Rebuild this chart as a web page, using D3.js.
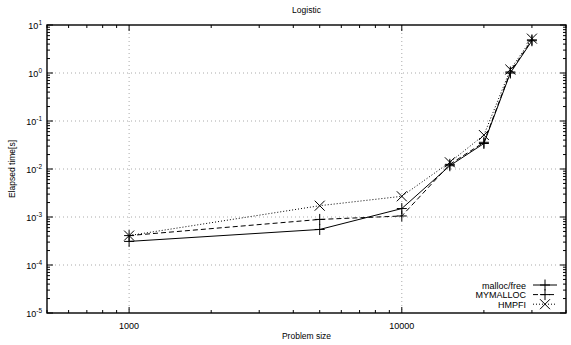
<!DOCTYPE html>
<html>
<head>
<meta charset="utf-8">
<script src="https://cdn.jsdelivr.net/npm/d3@7"></script>
<style>
  body { margin: 0; background: #fff; }
  svg text { font-family: "Liberation Sans", Arial, sans-serif; fill: #000; }
</style>
</head>
<body>
<div id="chart"></div>
<script>
// problem sizes on the x axis
const sizes = [1000, 5000, 10000, 15000, 20000, 25000, 30000];
// elapsed time [s] per series
const mallocFree = [3.1e-4, 5.5e-4, 1.5e-3, 1.17e-2, 3.4e-2, 1.0, 4.7];
const myMalloc   = [4.1e-4, 8.9e-4, 1.05e-3, 1.25e-2, 3.6e-2, 1.05, 4.9];
const hmpfi      = [4.1e-4, 1.72e-3, 2.7e-3, 1.38e-2, 5.1e-2, 1.18, 5.2];
const seriesNames = ['malloc/free', 'MYMALLOC', 'HMPFI'];
const xTickValues = [1000, 10000];
const yTickExp = [-5, -4, -3, -2, -1, 0, 1];

const width = 571, height = 345;
const margin = { top: 25, right: 5, bottom: 32, left: 47 };
const w = width - margin.left - margin.right;
const h = height - margin.top - margin.bottom;

const svg = d3.select('#chart').append('svg')
  .attr('width', width)
  .attr('height', height);

const chart = svg.append('g')
  .attr('transform', `translate(${margin.left},${margin.top})`);

const x = d3.scaleLog().domain([500, 40000]).range([0, w]);
const y = d3.scaleLog().domain([1e-5, 10]).range([h, 0]);

// grid
chart.append('g')
  .selectAll('line.gx')
  .data(xTickValues)
  .enter().append('line')
  .attr('x1', d => x(d)).attr('x2', d => x(d))
  .attr('y1', 0).attr('y2', h)
  .attr('stroke', '#aaa').attr('stroke-width', 1)
  .attr('stroke-dasharray', '1 3');

chart.append('g')
  .selectAll('line.gy')
  .data(yTickExp.slice(1, -1))
  .enter().append('line')
  .attr('x1', 0).attr('x2', w)
  .attr('y1', d => y(Math.pow(10, d))).attr('y2', d => y(Math.pow(10, d)))
  .attr('stroke', '#aaa').attr('stroke-width', 1)
  .attr('stroke-dasharray', '1 3');

// minor ticks
const xMinor = [];
for (let dec = 100; dec <= 10000; dec *= 10) {
  for (let k = 1; k <= 9; k++) {
    const v = dec * k;
    if (v >= 500 && v <= 40000) xMinor.push(v);
  }
}
const yMinor = [];
for (let e = -5; e < 1; e++) {
  for (let k = 2; k <= 9; k++) yMinor.push(k * Math.pow(10, e));
}

const ticks = chart.append('g').attr('stroke', '#000').attr('stroke-width', 1);
xMinor.forEach(v => {
  const major = xTickValues.includes(v);
  const len = major ? 6 : 3;
  ticks.append('line').attr('x1', x(v)).attr('x2', x(v)).attr('y1', h).attr('y2', h - len);
  ticks.append('line').attr('x1', x(v)).attr('x2', x(v)).attr('y1', 0).attr('y2', len);
});
yMinor.forEach(v => {
  ticks.append('line').attr('x1', 0).attr('x2', 3).attr('y1', y(v)).attr('y2', y(v));
  ticks.append('line').attr('x1', w).attr('x2', w - 3).attr('y1', y(v)).attr('y2', y(v));
});
yTickExp.forEach(e => {
  const v = Math.pow(10, e);
  ticks.append('line').attr('x1', 0).attr('x2', 6).attr('y1', y(v)).attr('y2', y(v));
  ticks.append('line').attr('x1', w).attr('x2', w - 6).attr('y1', y(v)).attr('y2', y(v));
});

// tick labels
chart.append('g').selectAll('text')
  .data(xTickValues)
  .enter().append('text')
  .attr('x', d => x(d))
  .attr('y', h + 16)
  .attr('text-anchor', 'middle')
  .style('font-size', '9px')
  .text(d => d);

const yl = chart.append('g').selectAll('text')
  .data(yTickExp)
  .enter().append('text')
  .attr('x', -5)
  .attr('y', d => y(Math.pow(10, d)) + 4)
  .attr('text-anchor', 'end')
  .style('font-size', '9px');
yl.append('tspan').text('10');
yl.append('tspan').attr('dy', -4).style('font-size', '6.5px').text(d => d);

// frame
chart.append('rect')
  .attr('x', 0).attr('y', 0).attr('width', w).attr('height', h)
  .attr('fill', 'none').attr('stroke', '#000').attr('stroke-width', 1.4);

// series
const series = [
  { name: seriesNames[0], values: mallocFree, dash: null, marker: 'plus' },
  { name: seriesNames[1], values: myMalloc, dash: '5 3', marker: 'plus' },
  { name: seriesNames[2], values: hmpfi, dash: '1 2', marker: 'cross' }
];

const line = d3.line()
  .x(d => x(d[0]))
  .y(d => y(d[1]));

function drawMarker(g, type, cx, cy) {
  if (type === 'plus') {
    g.append('line').attr('x1', cx - 5).attr('x2', cx + 5).attr('y1', cy).attr('y2', cy);
    g.append('line').attr('x1', cx).attr('x2', cx).attr('y1', cy - 5.5).attr('y2', cy + 5.5);
  } else {
    g.append('line').attr('x1', cx - 5).attr('x2', cx + 5).attr('y1', cy - 5).attr('y2', cy + 5);
    g.append('line').attr('x1', cx - 5).attr('x2', cx + 5).attr('y1', cy + 5).attr('y2', cy - 5);
  }
}

series.forEach(s => {
  const pts = sizes.map((d, i) => [d, s.values[i]]);
  chart.append('path')
    .datum(pts)
    .attr('d', line)
    .attr('fill', 'none')
    .attr('stroke', '#000')
    .attr('stroke-width', 1)
    .attr('stroke-dasharray', s.dash);
  const mg = chart.append('g').attr('stroke', '#000').attr('stroke-width', 1);
  pts.forEach(p => drawMarker(mg, s.marker, x(p[0]), y(p[1])));
});

// legend
const legend = svg.append('g');
series.forEach((s, i) => {
  const ly = 285 + i * 9.6;
  legend.append('text')
    .attr('x', 526).attr('y', ly + 3.5)
    .attr('text-anchor', 'end')
    .style('font-size', '9px')
    .text(s.name);
  legend.append('line')
    .attr('x1', 533).attr('x2', 557).attr('y1', ly).attr('y2', ly)
    .attr('stroke', '#000').attr('stroke-width', 1)
    .attr('stroke-dasharray', s.dash);
  const mg = legend.append('g').attr('stroke', '#000').attr('stroke-width', 1);
  drawMarker(mg, s.marker, 545, ly);
});

// titles
svg.append('text')
  .attr('x', margin.left + w / 2).attr('y', 13)
  .attr('text-anchor', 'middle')
  .style('font-size', '8.5px')
  .text('Logistic');

svg.append('text')
  .attr('x', margin.left + w / 2).attr('y', 339)
  .attr('text-anchor', 'middle')
  .style('font-size', '8.5px')
  .text('Problem size');

svg.append('text')
  .attr('transform', `translate(15,${margin.top + h / 2}) rotate(-90)`)
  .attr('text-anchor', 'middle')
  .style('font-size', '8.5px')
  .text('Elapsed time[s]');
</script>
</body>
</html>
